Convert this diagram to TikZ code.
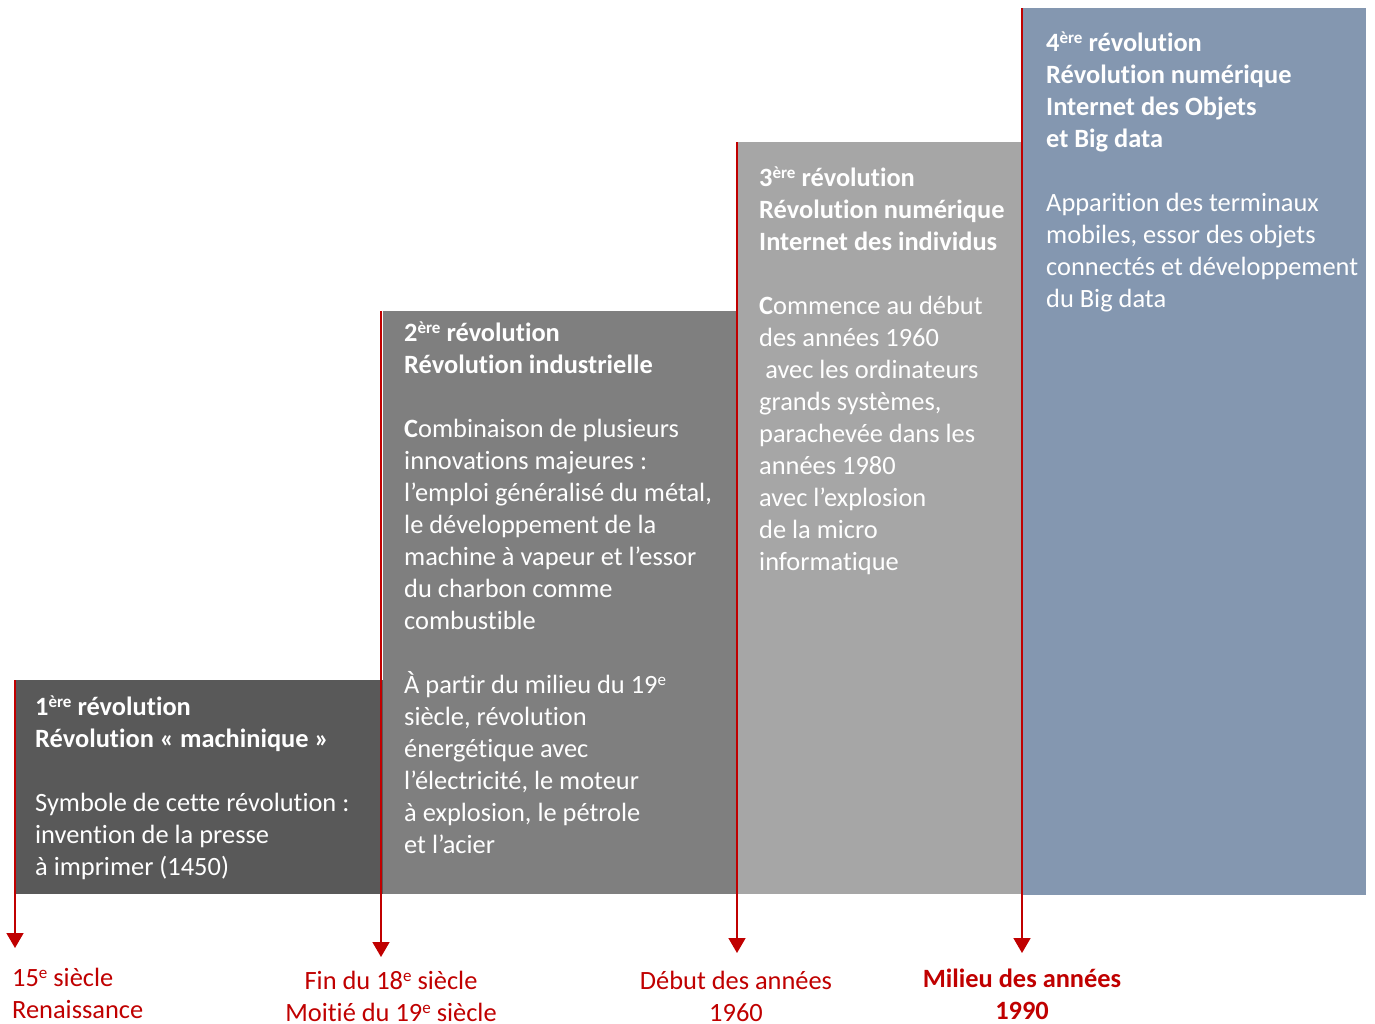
\documentclass[tikz,border=0pt]{standalone}
\usepackage{fontspec}
\setmainfont[Ligatures=NoCommon]{Carlito}
\usetikzlibrary{arrows.meta}
\definecolor{boxA}{HTML}{595959}
\definecolor{boxB}{HTML}{7F7F7F}
\definecolor{boxC}{HTML}{A6A6A6}
\definecolor{boxD}{HTML}{8497B0}
\definecolor{era}{HTML}{C00000}
% natural word spacing of the font inside aligned nodes
\newcommand\natspace{\spaceskip=0.226em\relax\xspaceskip=0.226em\relax}
% small raised ordinal suffix
\newcommand\sups[1]{\raisebox{0.3em}{\fontsize{17}{17}\selectfont #1}}
\begin{document}
\begin{tikzpicture}[x=1pt,y=-1pt,
  boxtext/.style={anchor=base west, inner sep=0pt, align=left, text=white,
    text width=#1, font=\fontsize{26.4}{32}\selectfont,
    execute at begin node=\natspace},
  datelabel/.style={anchor=base, inner sep=0pt, align=center, text=era,
    text width=280pt, font=\fontsize{26.4}{32}\selectfont,
    execute at begin node=\natspace},
  timeline/.style={draw=era, line width=1.6pt, -{Triangle[width=17pt,length=15pt]}}]

\useasboundingbox[fill=white] (0,0) rectangle (1375,1023);

% the four steps of the staircase
\fill[boxA] (15,680) rectangle (383,894);
\fill[boxB] (383,311) rectangle (737,894);
\fill[boxC] (737,142) rectangle (1023,894);
\fill[boxD] (1023,8) rectangle (1366,895);

% texts inside the steps
\node[boxtext=345pt] (r1) at (35,715) {\textbf{1\sups{ère} révolution}\\
  \textbf{Révolution « machinique »}\\[32pt]
  Symbole de cette révolution :\\
  invention de la presse\\
  à imprimer (1450)};

\node[boxtext=330pt] (r2) at (404,341) {\textbf{2\sups{ère} révolution}\\
  \textbf{Révolution industrielle}\\[32pt]
  \textbf{C}ombinaison de plusieurs\\
  innovations majeures :\\
  l’emploi généralisé du métal,\\
  le développement de la\\
  machine à vapeur et l’essor\\
  du charbon comme\\
  combustible\\[32pt]
  À partir du milieu du 19\sups{e}\\
  siècle, révolution\\
  énergétique avec\\
  l’électricité, le moteur\\
  à explosion, le pétrole\\
  et l’acier};

\node[boxtext=262pt] (r3) at (759,186) {\textbf{3\sups{ère} révolution}\\
  \textbf{Révolution numérique}\\
  \textbf{Internet des individus}\\[32pt]
  \textbf{C}ommence au début\\
  des années 1960\\
  \hspace{0.23em}avec les ordinateurs\\
  grands systèmes,\\
  parachevée dans les\\
  années 1980\\
  avec l’explosion\\
  de la micro\\
  informatique};

\node[boxtext=325pt] (r4) at (1046,51) {\textbf{4\sups{ère} révolution}\\
  \textbf{Révolution numérique}\\
  \textbf{Internet des Objets}\\
  \textbf{et Big data}\\[32pt]
  Apparition des terminaux\\
  mobiles, essor des objets\\
  connectés et développement\\
  du Big data};

% timeline markers
\coordinate (t1) at (15,680);   \coordinate (h1) at (15,948);
\coordinate (t2) at (381,311);  \coordinate (h2) at (381,957);
\coordinate (t3) at (737,142);  \coordinate (h3) at (737,953);
\coordinate (t4) at (1022,8);   \coordinate (h4) at (1022,953);
\draw[timeline] (t1) -- (h1);
\draw[timeline] (t2) -- (h2);
\draw[timeline] (t3) -- (h3);
\draw[timeline] (t4) -- (h4);

% dates
\node[datelabel, anchor=base west, align=left] (d1) at (12,986)
  {15\sups{e} siècle\\Renaissance};
\node[datelabel] (d2) at (391,989)
  {Fin du 18\sups{e} siècle\\Moitié du 19\sups{e} siècle};
\node[datelabel] (d3) at (736,989) {Début des années\\1960};
\node[datelabel, font=\fontsize{26.4}{32}\selectfont\bfseries] (d4) at (1022,987)
  {Milieu des années\\1990};
\end{tikzpicture}
\end{document}
